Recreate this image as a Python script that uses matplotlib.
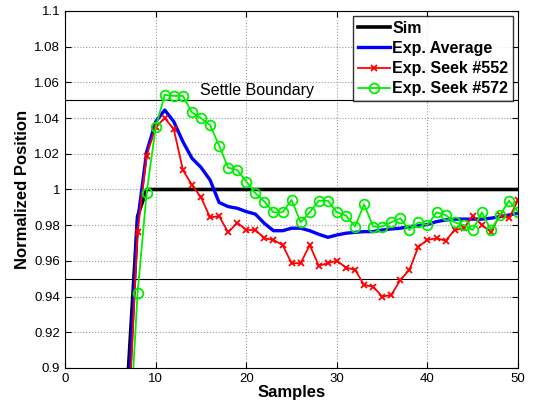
import numpy as np
import matplotlib
matplotlib.use("Agg")
import matplotlib.pyplot as plt

plt.rcParams['font.family'] = ['Liberation Sans', 'DejaVu Sans']

# samples 7..50
samples = list(range(7, 51))

sim = [0.90, 0.985] + [1.0] * 42

avg = [0.884, 0.982, 1.021, 1.038, 1.0445, 1.038, 1.0268, 1.0175, 1.0124, 1.0053,
       0.9927, 0.9904, 0.9895, 0.9876, 0.9862, 0.981, 0.9769, 0.9769, 0.9783, 0.9783,
       0.9769, 0.9749, 0.9732, 0.9745, 0.9755, 0.976, 0.9764, 0.9764, 0.9773, 0.9779,
       0.9783, 0.9792, 0.9797, 0.9804, 0.982, 0.9829, 0.9834, 0.9834, 0.9834, 0.9834,
       0.9839, 0.9848, 0.9857, 0.9867]

seek552 = [0.870, 0.976, 1.019, 1.035, 1.040, 1.0337, 1.011, 1.0025, 0.9956, 0.9844,
           0.985, 0.976, 0.9814, 0.9773, 0.9773, 0.9727, 0.9717, 0.9689, 0.9587, 0.9587,
           0.9689, 0.9573, 0.9587, 0.9601, 0.9562, 0.955, 0.9465, 0.9456, 0.940, 0.9409,
           0.9493, 0.955, 0.968, 0.9717, 0.9727, 0.9713, 0.9773, 0.9783, 0.9851, 0.9801,
           0.9763, 0.9857, 0.9839, 0.9941]

seek572 = [0.851, 0.942, 0.998, 1.035, 1.053, 1.0524, 1.0524, 1.0432, 1.0399, 1.0361,
           1.0246, 1.0122, 1.0109, 1.0044, 0.998, 0.9932, 0.9872, 0.9872, 0.9941, 0.9816,
           0.9872, 0.9937, 0.9937, 0.9872, 0.9854, 0.9792, 0.9917, 0.9792, 0.9792, 0.9816,
           0.9839, 0.9773, 0.9816, 0.9801, 0.9872, 0.9857, 0.9816, 0.9801, 0.9773, 0.9872,
           0.9773, 0.9857, 0.9937, 0.9874]

settle_hi = 1.05
settle_lo = 0.95

fig = plt.figure(figsize=(5.38, 4.05), dpi=100)
ax = fig.add_axes([0.121, 0.0914, 0.842, 0.8815])

ax.axhline(settle_hi, color='black', lw=0.8)
ax.axhline(settle_lo, color='black', lw=0.8)
ax.text(14.9, settle_hi + 0.0010, 'Settle Boundary', fontsize=11.5, va='bottom')

ax.plot(samples, sim, color='black', lw=2.6, label='Sim')
ax.plot(samples, avg, color='blue', lw=2.4, label='Exp. Average')
ax.plot(samples, seek552, color='red', lw=1.3, marker='x', ms=4.5, mew=1.3,
        label='Exp. Seek #552')
ax.plot(samples, seek572, color='#00ee00', lw=1.3, marker='o', ms=7, mfc='none',
        mew=1.3, label='Exp. Seek #572')

ax.set_xlim(0, 50)
ax.set_ylim(0.9, 1.1)
ax.set_xticks(np.arange(0, 51, 10))
ax.set_yticks(np.arange(0.9, 1.1001, 0.02))
ax.set_yticklabels(['0.9', '0.92', '0.94', '0.96', '0.98', '1', '1.02', '1.04',
                    '1.06', '1.08', '1.1'])
ax.tick_params(direction='in', top=True, right=True, labelsize=9.5, length=4)
ax.grid(True, linestyle=':', color='#999999', lw=0.8)

ax.set_xlabel('Samples', fontsize=12, fontweight='bold', labelpad=0)
ax.set_ylabel('Normalized Position', fontsize=12, fontweight='bold', labelpad=3)

leg = ax.legend(loc='upper right', fancybox=False, edgecolor='black',
                prop={'weight': 'bold', 'size': 11.5}, handlelength=2.0,
                borderpad=0.3, labelspacing=0.33, handletextpad=0.15,
                borderaxespad=0.3)
leg.get_frame().set_linewidth(1.0)

fig.savefig('out.png', dpi=100)
